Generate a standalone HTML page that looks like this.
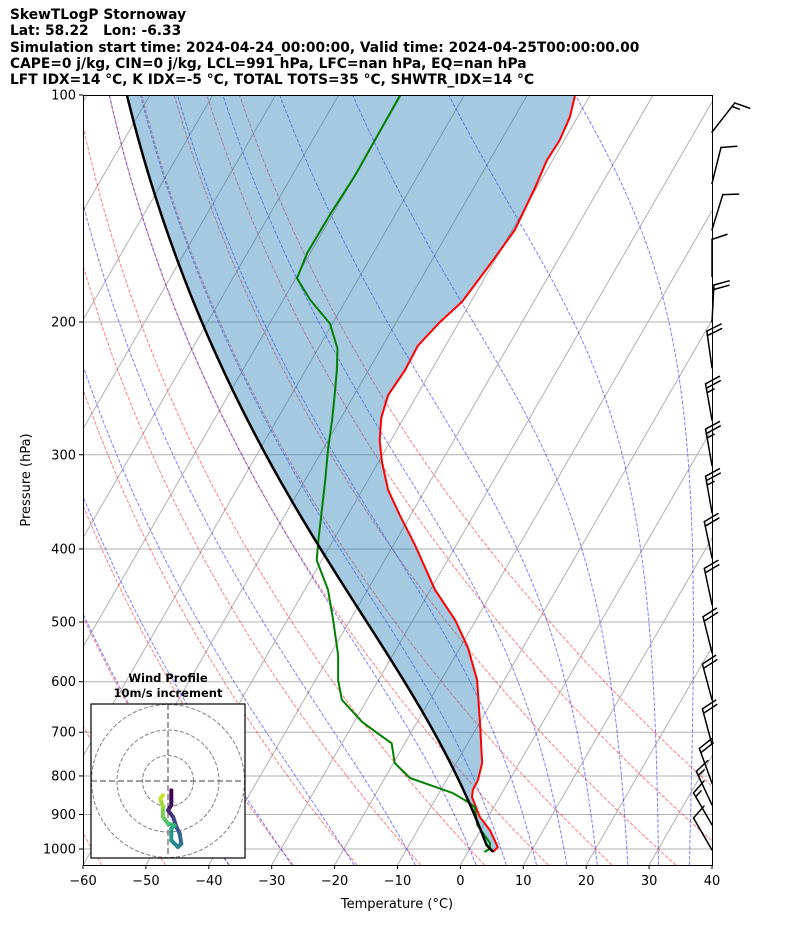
<!DOCTYPE html>
<html><head><meta charset="utf-8"><style>
html,body{margin:0;padding:0;background:#fff;}
body{width:794px;height:937px;overflow:hidden;font-family:"DejaVu Sans","Liberation Sans",sans-serif;}
.t{position:absolute;left:10px;font-weight:bold;font-size:13.8px;line-height:16.3px;white-space:nowrap;}
</style></head><body>
<div class="t" style="top:7px">SkewTLogP Stornoway<br>Lat: 58.22&nbsp;&nbsp; Lon: -6.33<br>Simulation start time: 2024-04-24_00:00:00, Valid time: 2024-04-25T00:00:00.00<br>CAPE=0 j/kg, CIN=0 j/kg, LCL=991 hPa, LFC=nan hPa, EQ=nan hPa<br>LFT IDX=14 °C, K IDX=-5 °C, TOTAL TOTS=35 °C, SHWTR_IDX=14 °C</div>
<svg id="svg" width="794" height="937" style="position:absolute;left:0;top:0" xmlns="http://www.w3.org/2000/svg"></svg>
<script>
// ---- data ----
const tempP = [1009,994,944,907,853,835,810,769,689,597,540,497,453,395,361,334,307,287,268,250,232,215,200,188,166,151,132,122,115,107,100];
const tempT = [4.0,4.3,1.5,-1.3,-4.4,-4.9,-5.0,-5.9,-9.5,-14.3,-18.8,-23.3,-29.3,-36.6,-41.7,-45.9,-49.4,-51.8,-53.6,-54.6,-54.2,-54.4,-53.05,-51.4,-50.3,-49.6,-50.3,-50.9,-50.7,-51.2,-52.4];
const dewP = [1009,1000,982,929,880,866,843,805,769,724,706,678,634,597,553,497,453,414,389,355,324,296,270,250,232,217,201,187,175,162,144,128,113,100];
const dewT = [2.6,3.2,2.7,-1.0,-3.0,-4.6,-7.8,-16.0,-19.8,-22.1,-24.7,-28.8,-34.0,-36.4,-38.7,-42.7,-46.3,-50.8,-52.4,-54.6,-56.8,-59.1,-61.2,-63.1,-65.0,-66.9,-70.4,-75.7,-79.8,-80.5,-80.4,-80.0,-80.1,-80.2];
const barbP = [112,131,151,174,200,230,270,310,358,411,474,549,634,727,818,874,929,1003];
const barbDir = [38,14,17,0,3,352,350,350,350,348,348,346,345,345,340,335,330,330];
const barbSpd = [15,10,10,10,20,20,25,25,25,20,20,20,20,20,20,15,15,10];
const hodoU = [1.3,1.3,0,2.0,3.3,4.6,5.2,3.9,1.3,1.3,2.6,0,-2.0,-2.0,-3.0,-2.0];
const hodoV = [-3.7,-9.5,-11.5,-14.1,-18.0,-20.7,-24.6,-25.9,-23.3,-18.7,-17.4,-16.7,-14.1,-10.2,-6.9,-5.6];
const pTicks = [100,200,300,400,500,600,700,800,900,1000];
const tTicks = [-60,-50,-40,-30,-20,-10,0,10,20,30,40];

// ---- geometry ----
const X0=83,X1=712,Y0=95,Y1=865,NS="http://www.w3.org/2000/svg";
const svg=document.getElementById('svg');
function yOf(p){return Y0+Math.log(p/100)/Math.log(10.5)*770;}
function xOf(T,p){return X0+(T+60)*6.29+(Y1-yOf(p))*0.577;}
function mk(tag,attrs,parent){const e=document.createElementNS(NS,tag);for(const k in attrs)e.setAttribute(k,attrs[k]);(parent||svg).appendChild(e);return e;}
function pathD(ps,ts){return ps.map((p,i)=>(i?'L':'M')+xOf(ts[i],p).toFixed(2)+','+yOf(p).toFixed(2)).join('');}

const Rd=287.04749,Cp=1004.6662,Lv=2.50084e6,eps=0.622,kap=Rd/Cp;
function es(T){const c=T-273.15;return 6.112*Math.exp(17.67*c/(c+243.5));}
function dTdp(p,T){const e=es(T);const rs=eps*e/(p-e);return (Rd*T+Lv*rs)/(Cp+Lv*Lv*rs*eps/(Rd*T*T))/p;}
function moist(T0,p0,pEnd,step){const ps=[p0],ts=[T0-273.15];let T=T0,p=p0;const n=Math.ceil(Math.abs(pEnd-p0)/step);const h=(pEnd-p0)/n;
 for(let i=0;i<n;i++){const k1=dTdp(p,T),k2=dTdp(p+h/2,T+h/2*k1),k3=dTdp(p+h/2,T+h/2*k2),k4=dTdp(p+h,T+h*k3);T+=h/6*(k1+2*k2+2*k3+k4);p+=h;ps.push(p);ts.push(T-273.15);}return [ps,ts];}

const defs=mk('defs',{});
const cp=mk('clipPath',{id:'clip'},defs);mk('rect',{x:X0,y:Y0,width:X1-X0,height:Y1-Y0},cp);
const plot=mk('g',{'clip-path':'url(#clip)'});



for(let T=-170;T<=40;T+=10){const l=mk('line',{x1:xOf(T,1050),y1:Y1,x2:xOf(T,100),y2:Y0,stroke:'#b0b0b0','stroke-width':1},plot);

}
pTicks.forEach(p=>{const l=mk('line',{x1:X0,x2:X1,y1:yOf(p),y2:yOf(p),stroke:'#b0b0b0','stroke-width':1},plot);

});

const pl=[];for(let p=1050;p>=100;p-=10)pl.push(p);
for(let t0=-60;t0<=50;t0+=10){const th=t0+273.15;const ts=pl.map(p=>th*Math.pow(p/1000,kap)-273.15);
 const e=mk('path',{d:pathD(pl,ts),fill:'none',stroke:'rgba(255,0,0,0.5)','stroke-width':1,'stroke-dasharray':'3.7,1.6'},plot);
 
 }
[-40,-30,-20,-10,0,5,10,15,20,25,30,35].forEach(t0=>{const a=moist(t0+273.15,1000,100,5),b=moist(t0+273.15,1000,1050,5);
 const ps=b[0].slice().reverse().concat(a[0].slice(1)),ts=b[1].slice().reverse().concat(a[1].slice(1));
 const e=mk('path',{d:pathD(ps,ts),fill:'none',stroke:'rgba(0,0,255,0.5)','stroke-width':1,'stroke-dasharray':'3.7,1.6'},plot);
 
 });

// parcel
const p0=tempP[0],T0=tempT[0]+273.15,Td0=dewT[0]+273.15;
const ed=es(Td0),w=eps*ed/(p0-ed);
let lo=300,hi=p0;for(let i=0;i<60;i++){const m=(lo+hi)/2;const T=T0*Math.pow(m/p0,kap);const e=es(T);const ws=eps*e/(m-e);if(ws>w)hi=m;else lo=m;}
const pLcl=(lo+hi)/2,TLcl=T0*Math.pow(pLcl/p0,kap);
const parP=[],parT=[];for(let p=p0;p>pLcl;p-=2){parP.push(p);parT.push(T0*Math.pow(p/p0,kap)-273.15);}
const mm=moist(TLcl,pLcl,100,2);mm[0].forEach((p,i)=>{parP.push(p);parT.push(mm[1][i]);});
function interpT(p){for(let i=0;i<tempP.length-1;i++){if(p<=tempP[i]&&p>=tempP[i+1]){const f=(Math.log(p)-Math.log(tempP[i]))/(Math.log(tempP[i+1])-Math.log(tempP[i]));return tempT[i]+f*(tempT[i+1]-tempT[i]);}}return tempT[tempT.length-1];}
const envT=parP.map(interpT);
let fd=pathD(parP,envT)+parP.slice().reverse().map((p,i)=>'L'+xOf(parT[parT.length-1-i],p).toFixed(2)+','+yOf(p).toFixed(2)).join('')+'Z';
const fill=mk('path',{d:fd,fill:'rgba(31,119,180,0.4)',stroke:'none'},plot);



const tl=mk('path',{d:pathD(tempP,tempT),fill:'none',stroke:'#ff0000','stroke-width':2},plot);


const dl=mk('path',{d:pathD(dewP,dewT),fill:'none',stroke:'#008000','stroke-width':2},plot);


const pc=mk('path',{d:pathD(parP,parT),fill:'none',stroke:'#000','stroke-width':2.5},plot);



const fr=mk('rect',{x:X0+0.5,y:Y0+0.5,width:X1-X0,height:Y1-Y0,fill:'none',stroke:'#000','stroke-width':1});



pTicks.forEach(p=>{const y=yOf(p);mk('line',{x1:X0-4,x2:X0,y1:y,y2:y,stroke:'#000'});
 const t=mk('text',{x:X0-7,y:y+4.5,'text-anchor':'end','font-size':13,'font-family':'DejaVu Sans, Liberation Sans, sans-serif'});t.textContent=p;
 
 });
tTicks.forEach(T=>{const x=X0+(T+60)*6.29;mk('line',{x1:x,x2:x,y1:Y1,y2:Y1+4,stroke:'#000'});
 const t=mk('text',{x:x,y:Y1+20,'text-anchor':'middle','font-size':13,'font-family':'DejaVu Sans, Liberation Sans, sans-serif'});t.textContent=String(T).replace('-','\u2212');
 
 });
let ax=mk('text',{x:397,y:908,'text-anchor':'middle','font-size':13,'font-family':'DejaVu Sans, Liberation Sans, sans-serif'});ax.textContent='Temperature (\u00B0C)';


ax=mk('text',{x:0,y:0,'text-anchor':'middle','font-size':13,'font-family':'DejaVu Sans, Liberation Sans, sans-serif',transform:'translate(30,480) rotate(-90)'});ax.textContent='Pressure (hPa)';



// wind barbs
const bg=mk('g',{stroke:'#000','stroke-width':1.5,fill:'#000','stroke-linecap':'round'});


barbP.forEach((p,i)=>{const bx=X1,by=yOf(p),a=barbDir[i]*Math.PI/180,L=37;
 const dx=Math.sin(a),dy=-Math.cos(a);const tx=bx+dx*L,ty=by+dy*L;const px=-dy,py=dx;
 const g=mk('g',{},bg);
 
 
 mk('line',{x1:bx,y1:by,x2:tx,y2:ty},g);
 let s=barbSpd[i],pos=0;
 while(s>=50){const ax1=tx-dx*pos,ay1=ty-dy*pos;mk('polygon',{points:`${ax1},${ay1} ${ax1+px*15-dx*3},${ay1+py*15-dy*3} ${ax1-dx*6},${ay1-dy*6}`},g);pos+=8;s-=50;}
 while(s>=10){const ax1=tx-dx*pos,ay1=ty-dy*pos;mk('line',{x1:ax1,y1:ay1,x2:ax1+px*15+dx*5,y2:ay1+py*15+dy*5},g);pos+=4.5;s-=10;}
 if(s>=5){if(pos===0)pos=4.5;const ax1=tx-dx*pos,ay1=ty-dy*pos;mk('line',{x1:ax1,y1:ay1,x2:ax1+px*7.5+dx*2.5,y2:ay1+py*7.5+dy*2.5},g);}
});

// hodograph inset
const HX=91,HY=704,HW=154,HH=154,HC=[168,781],HS=2.55;
const hg=mk('g',{});


const hc=mk('clipPath',{id:'hclip'},defs);mk('rect',{x:HX,y:HY,width:HW,height:HH},hc);
mk('rect',{x:HX,y:HY,width:HW,height:HH,fill:'#fff',stroke:'none'},hg);
const hin=mk('g',{'clip-path':'url(#hclip)'},hg);
[10,20,30].forEach(r=>mk('circle',{cx:HC[0],cy:HC[1],r:r*HS,fill:'none',stroke:'#808080','stroke-width':1,'stroke-dasharray':'4,2'},hin));
mk('line',{x1:HX,x2:HX+HW,y1:HC[1],y2:HC[1],stroke:'#808080','stroke-width':1.5,'stroke-dasharray':'6,3'},hin);
mk('line',{y1:HY,y2:HY+HH,x1:HC[0],x2:HC[0],stroke:'#808080','stroke-width':1.5,'stroke-dasharray':'6,3'},hin);
const vir=[[68,1,84],[72,40,120],[62,73,137],[49,104,142],[38,130,142],[31,158,137],[53,183,121],[110,206,88],[181,222,43],[253,231,37]];
function vcol(t){const f=t*9,i=Math.min(8,Math.floor(f)),r=f-i;const c=vir[i].map((v,k)=>Math.round(v+(vir[i+1][k]-v)*r));return `rgb(${c})`;}
for(let i=0;i<hodoU.length-1;i++){const seg=mk('line',{x1:HC[0]+hodoU[i]*HS,y1:HC[1]-hodoV[i]*HS,x2:HC[0]+hodoU[i+1]*HS,y2:HC[1]-hodoV[i+1]*HS,stroke:vcol(i/(hodoU.length-2)*0.92),'stroke-width':4,'stroke-linecap':'round'},hin);
 
 }
mk('rect',{x:HX,y:HY,width:HW,height:HH,fill:'none',stroke:'#000','stroke-width':1.2},hg);
ax=mk('text',{x:HC[0],y:682,'text-anchor':'middle','font-size':11.5,'font-weight':'bold','font-family':'DejaVu Sans, Liberation Sans, sans-serif'},hg);ax.textContent='Wind Profile';


ax=mk('text',{x:HC[0],y:697,'text-anchor':'middle','font-size':11.5,'font-weight':'bold','font-family':'DejaVu Sans, Liberation Sans, sans-serif'},hg);ax.textContent='10m/s increment';


</script>
</body></html>
